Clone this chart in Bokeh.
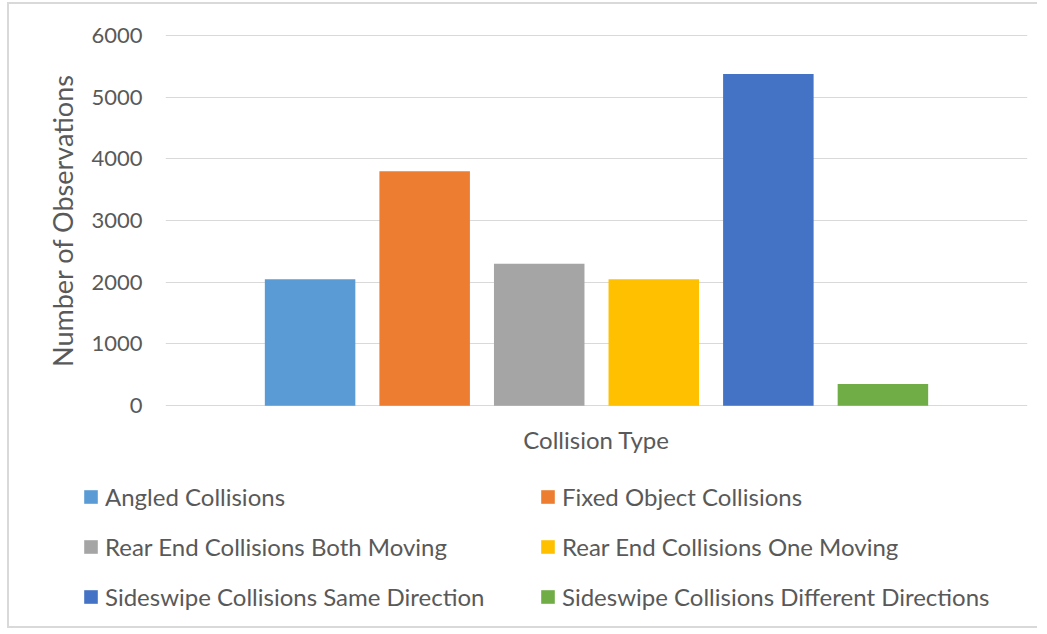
from bokeh.plotting import figure
from bokeh.models import FactorRange, FixedTicker, Legend, LegendItem, NumeralTickFormatter, Range1d
from bokeh.embed import file_html
from bokeh.resources import INLINE

# ---- data ----
categories = [
    "Angled Collisions",
    "Fixed Object Collisions",
    "Rear End Collisions Both Moving",
    "Rear End Collisions One Moving",
    "Sideswipe Collisions Same Direction",
    "Sideswipe Collisions Different Directions",
]
observations = [2050, 3800, 2300, 2050, 5375, 350]
colors = ["#5B9BD5", "#ED7D31", "#A5A5A5", "#FFC000", "#4472C4", "#70AD47"]
y_ticks = [0, 1000, 2000, 3000, 4000, 5000, 6000]
x_title = "Collision Type"
y_title = "Number of Observations"

FONT = "Lato"
TXT = "#595959"
GRID = "#D9D9D9"

# ---- chart ----
p = figure(
    width=1030, height=461,
    output_backend="svg", toolbar_location=None,
    x_range=FactorRange(*categories, range_padding=0.254),
    y_range=(-30, 6030),
    min_border_left=156, min_border_right=12, min_border_top=29, min_border_bottom=58,
    margin=(2, 0, 0, 7),
)
p.styles = {
    "border-left": "2px solid #D9D9D9",
    "border-top": "2px solid #D9D9D9",
}
p.outline_line_color = None

for i, c in enumerate(categories):
    p.vbar(x=[c], top=[observations[i]], width=0.79, fill_color=colors[i], line_color=None)

p.xgrid.grid_line_color = None
p.ygrid.ticker = FixedTicker(ticks=y_ticks)
p.ygrid.grid_line_color = GRID
p.ygrid.grid_line_width = 1

p.yaxis.ticker = FixedTicker(ticks=y_ticks)
p.yaxis.formatter = NumeralTickFormatter(format="0")
p.yaxis.axis_line_color = None
p.yaxis.major_tick_line_color = None
p.yaxis.minor_tick_line_color = None
p.yaxis.major_tick_out = 0
p.yaxis.major_label_standoff = 23
p.yaxis.major_label_text_font = FONT
p.yaxis.major_label_text_font_size = "22px"
p.yaxis.major_label_text_color = TXT
p.yaxis.axis_label = y_title
p.yaxis.axis_label_text_font = FONT
p.yaxis.axis_label_text_font_size = "27px"
p.yaxis.axis_label_text_font_style = "normal"
p.yaxis.axis_label_text_color = TXT
p.yaxis.axis_label_standoff = 9

p.xaxis.axis_line_color = None
p.xaxis.separator_line_color = None
p.xaxis.major_tick_line_color = None
p.xaxis.minor_tick_line_color = None
p.xaxis.major_tick_out = 0
p.xaxis.major_label_standoff = 0
p.xaxis.major_label_text_font_size = "0px"
p.xaxis.axis_label = x_title
p.xaxis.axis_label_text_font = FONT
p.xaxis.axis_label_text_font_size = "24px"
p.xaxis.axis_label_text_font_style = "normal"
p.xaxis.axis_label_text_color = TXT
p.xaxis.axis_label_standoff = 17

# ---- legend panel (separate root; its series renderers are hidden, only the legend shows) ----
lg = figure(
    width=1030, height=165,
    output_backend="svg", toolbar_location=None,
    x_range=FactorRange(*categories), y_range=Range1d(-12000, -6000),
    x_axis_location=None, y_axis_location=None,
    min_border=0,
    margin=(0, 0, 0, 7),
)
lg.styles = {
    "border-left": "2px solid #D9D9D9",
    "border-bottom": "2px solid #D9D9D9",
}
lg.outline_line_color = None
lg.grid.visible = False

items = []
for i, c in enumerate(categories):
    r = lg.vbar(x=[c], top=[observations[i]], width=0.79, fill_color=colors[i], line_color=None)
    r.visible = False
    items.append(LegendItem(label=c, renderers=[r]))

legend = Legend(
    items=items,
    location=(73, 17),
    orientation="horizontal",
    ncols=2,
    margin=0, padding=0,
    spacing=21,
    glyph_width=17, glyph_height=17,
    label_standoff=6,
    label_width=413,
    label_text_font=FONT,
    label_text_font_size="24px",
    label_text_color=TXT,
    border_line_color=None,
    background_fill_alpha=0,
    click_policy="none",
)
lg.add_layout(legend, "center")

open("out.html", "w").write(file_html([p, lg], INLINE))
